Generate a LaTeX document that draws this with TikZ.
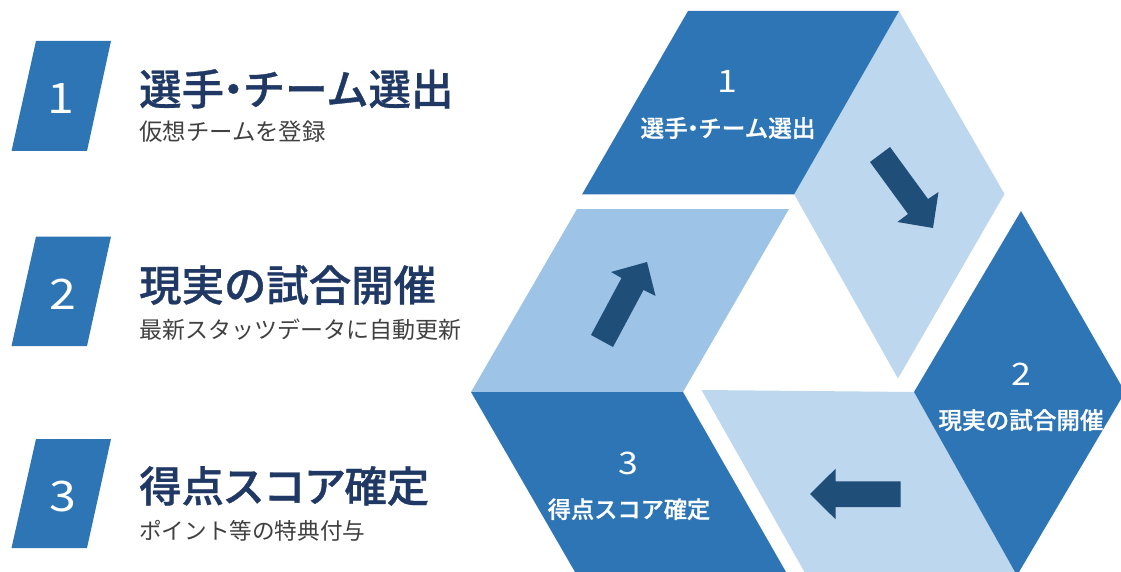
\documentclass[tikz,border=0pt]{standalone}
\usepackage{fontspec}
\setmainfont{Noto Sans CJK JP}
\newfontfamily\jpmed[FakeBold=0.8]{Noto Sans CJK JP Medium}
\definecolor{bluedark}{HTML}{2E75B6}
\definecolor{bluemid}{HTML}{9DC3E6}
\definecolor{bluelight}{HTML}{BDD7EE}
\definecolor{arrowblue}{HTML}{1F4E79}
\definecolor{titleblue}{HTML}{203864}
\definecolor{subgrey}{HTML}{404040}
\tikzset{
  panelDark/.style={fill=bluedark},
  panelMid/.style={fill=bluemid},
  panelLight/.style={fill=bluelight},
  flowArrow/.style={fill=arrowblue},
  numBig/.style={text=white,inner sep=0pt,anchor=center,xscale=1.15,font=\fontsize{42}{50}\selectfont},
  numSmall/.style={text=white,inner sep=0pt,anchor=center,xscale=1.15,font=\fontsize{31}{38}\selectfont},
  titleText/.style={text=titleblue,inner sep=0pt,anchor=base west,font=\fontsize{42.4}{50}\selectfont\jpmed},
  subText/.style={text=subgrey,inner sep=0pt,anchor=base west,font=\fontsize{23}{28}\selectfont},
  innerText/.style={text=white,inner sep=0pt,anchor=base,font=\fontsize{23.6}{28}\selectfont\jpmed},
}
\newcommand{\tdot}{\kern-.28em ・\kern-.28em }
\newcommand{\tk}{\kern-.04em }
\begin{document}
\begin{tikzpicture}[x=1pt,y=-1pt]
\useasboundingbox (0,0) rectangle (1121,572);
% left badges
\fill[panelDark] (36,41) -- (111,41) -- (87,151) -- (11.5,151) -- cycle;
\fill[panelDark] (36,236.5) -- (111,236.5) -- (87,346) -- (11.5,346) -- cycle;
\fill[panelDark] (36,439) -- (111,439) -- (87,548) -- (11.5,548) -- cycle;
\node[numBig] (b1) at (61,99) {1};
\node[numBig] (b2) at (63,294) {2};
\node[numBig] (b3) at (63,497) {3};
% left texts
\node[titleText] (t1) at (139,105) {選手\tdot チーム選出};
\node[subText,font=\fontsize{23.4}{28}\selectfont] (s1) at (139,141) {仮想チームを登録};
\node[titleText] (t2) at (139,301) {現実の試合開催};
\node[subText] (s2) at (139,338) {最新スタッツデータに自動更新};
\node[titleText] (t3) at (139,502) {得点\tk ス\tk コ\tk ア\tk 確定};
\node[subText,font=\fontsize{22.6}{28}\selectfont] (s3) at (139,539) {ポイント等の特典付与};
% cycle panels
\fill[panelLight] (899,11) -- (1004.5,194) -- (898,378.5) -- (794,194) -- cycle;
\fill[panelDark] (688,11) -- (899,11) -- (794,194.5) -- (582,194.5) -- cycle;
\fill[panelMid] (577,209) -- (789,209) -- (683,392) -- (471,392) -- cycle;
\fill[panelDark] (471,392) -- (683,392) -- (786,572) -- (575,572) -- cycle;
\fill[panelLight] (701.5,390) -- (914,392) -- (1015,572) -- (804.5,572) -- cycle;
\fill[panelDark] (1021,211) -- (1121,385) -- (1121,399) -- (1019,572) -- (1015,572) -- (914,392) -- cycle;
% arrows
\fill[flowArrow] (890,147) -- (928,199) -- (938.5,192) -- (933,228) -- (897.4,222) -- (908,214) -- (870,162) -- cycle;
\fill[flowArrow] (900.7,481.3) -- (835.6,481.3) -- (835.6,468.7) -- (810,494) -- (835.6,519.3) -- (835.6,507) -- (900.7,507) -- cycle;
\fill[flowArrow] (591,335) -- (621.5,278) -- (611,272) -- (647,262) -- (655.5,296) -- (643.5,290) -- (613,347) -- cycle;
% cycle labels
\node[numSmall] (n1) at (727,81) {1};
\node[innerText] (l1) at (728,137) {選手\tdot チーム選出};
\node[numSmall] (n2) at (1021,374) {2};
\node[innerText] (l2) at (1021,429) {現実の試合開催};
\node[numSmall] (n3) at (628,463) {3};
\node[innerText,font=\fontsize{23.2}{28}\selectfont\jpmed] (l3) at (629,518) {得点スコア確定};
\end{tikzpicture}
\end{document}
